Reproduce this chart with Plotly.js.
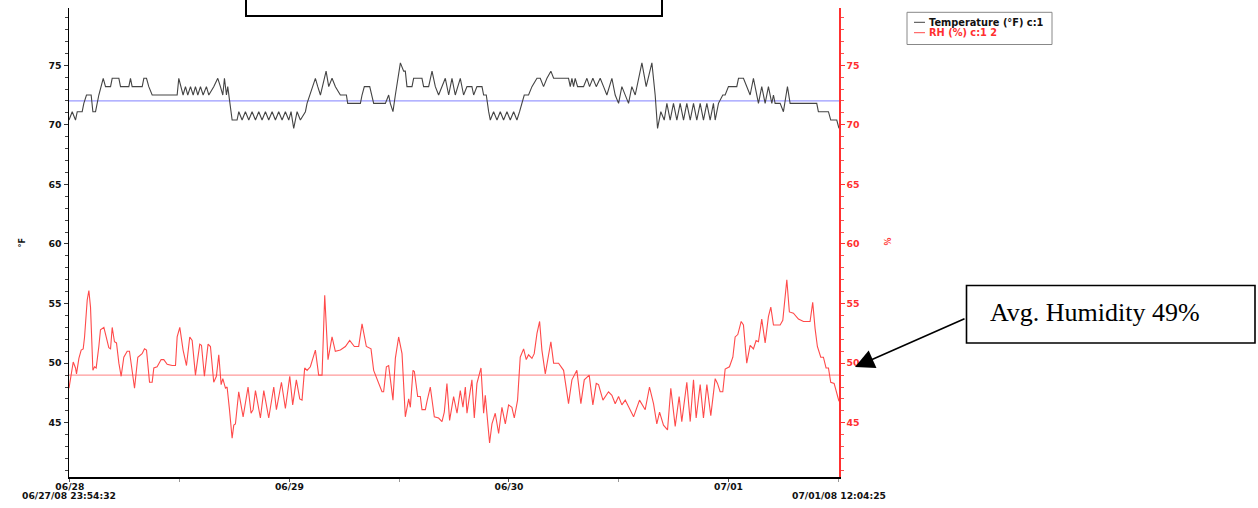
<!DOCTYPE html>
<html>
<head>
<meta charset="utf-8">
<script src="https://cdn.plot.ly/plotly-3.0.1.min.js"></script>
<style>html,body{margin:0;padding:0;background:#fff;}#chart{width:1258px;height:508px;}</style>
</head>
<body>
<div id="chart"></div>
<script>
// ---- data (hours since 2008-06-28 00:00) ----
const tempHours = [-0.09,0.26,0.62,0.81,1.35,1.53,1.82,2.33,2.52,2.81,3.17,3.43,3.65,3.90,4.45,4.63,5.36,5.54,6.45,6.63,6.81,7.91,8.09,8.38,8.63,9.00,11.73,11.91,12.17,12.38,12.64,12.89,13.19,13.48,13.73,13.99,14.28,14.57,14.93,15.19,15.73,16.17,16.46,16.72,16.90,17.12,17.26,17.56,17.74,18.28,18.47,18.83,19.19,19.56,19.92,20.29,20.65,21.01,21.38,21.74,22.11,22.47,22.83,23.20,23.56,23.93,24.18,24.47,24.84,25.20,25.75,25.93,26.22,26.48,26.84,27.10,27.39,28.01,28.30,28.66,29.03,29.57,30.23,30.37,31.76,31.94,32.19,32.78,33.03,33.21,34.49,34.85,35.03,35.32,35.58,35.83,36.13,36.49,36.67,36.85,37.40,37.58,38.49,38.67,39.22,39.59,39.95,40.31,41.04,41.41,41.77,42.13,42.68,43.04,43.41,43.95,44.14,44.50,45.05,45.23,45.52,45.78,45.96,46.32,46.69,47.05,47.41,47.78,48.14,48.51,48.87,49.16,49.42,49.67,50.14,50.51,51.06,51.42,51.78,52.15,52.58,52.88,54.51,54.70,54.88,55.06,55.24,55.50,56.15,56.52,56.81,57.17,57.54,57.97,58.34,58.70,59.25,59.61,59.98,60.34,61.07,61.43,61.80,61.98,62.34,62.53,63.00,63.44,63.62,63.98,64.24,64.60,64.97,65.26,65.62,65.98,66.35,66.71,67.08,67.44,67.81,68.17,68.53,68.90,69.26,69.63,69.99,70.35,70.54,70.90,71.37,71.63,71.99,72.90,73.09,73.63,74.00,74.36,74.72,75.09,75.27,75.63,76.00,76.36,76.73,76.91,77.09,77.64,78.00,78.29,78.44,78.73,81.64,81.82,82.92,83.17,83.83,84.07];
const tempValues = [70.4,71.1,70.4,71.1,71.1,71.8,72.5,72.5,71.1,71.1,72.5,73.2,73.9,73.2,73.2,73.9,73.9,73.2,73.2,73.9,73.2,73.2,73.9,73.9,73.2,72.5,72.5,73.9,73.2,72.5,73.2,72.5,73.2,72.5,73.2,72.5,73.2,72.5,73.2,72.5,73.2,73.9,73.2,72.5,73.9,72.5,73.2,71.1,70.4,70.4,71.1,70.4,71.1,70.4,71.1,70.4,71.1,70.4,71.1,70.4,71.1,70.4,71.1,70.4,71.1,70.4,71.1,69.7,71.1,70.4,71.1,71.8,72.5,73.2,73.9,73.2,72.5,74.5,73.2,73.9,73.2,72.5,72.5,71.8,71.8,72.5,73.2,73.2,72.5,71.8,71.8,72.5,71.8,71.1,72.5,73.9,75.2,74.5,74.5,73.2,73.2,73.9,73.9,73.2,73.2,74.5,73.2,72.5,73.9,72.5,73.9,72.5,73.9,72.5,73.2,73.2,72.5,73.2,73.2,72.5,72.5,71.1,70.4,71.1,70.4,71.1,70.4,71.1,70.4,71.1,70.4,71.1,71.8,72.5,72.5,73.2,73.9,73.9,73.2,73.9,74.5,73.9,73.9,73.2,73.9,73.2,73.9,73.2,73.2,73.9,73.2,73.9,73.2,73.9,73.2,72.5,73.9,72.5,71.8,73.2,71.8,73.2,72.5,73.2,74.5,75.2,73.2,74.5,75.2,72.5,69.7,71.1,70.4,71.8,70.4,71.8,70.4,71.8,70.4,71.8,70.4,71.8,70.4,71.8,70.4,71.8,70.4,71.8,70.4,71.8,72.5,72.5,73.2,73.2,73.9,73.9,73.2,72.5,73.9,72.5,71.8,73.2,71.8,73.2,71.8,72.5,71.8,71.8,71.1,72.5,73.2,71.8,71.8,71.1,71.1,70.4,70.4,69.7];
const rhHours = [-0.09,0.37,0.62,0.73,0.99,1.24,1.46,1.61,1.90,2.08,2.26,2.52,2.70,2.88,3.17,3.35,3.72,4.26,4.45,4.63,4.88,5.10,5.36,5.61,5.90,6.27,6.52,6.81,7.07,7.43,7.90,8.16,8.38,8.71,9.00,9.18,9.54,9.98,10.27,10.64,11.18,11.55,11.73,12.02,12.38,12.75,13.11,13.37,13.73,14.20,14.39,14.71,15.11,15.37,15.73,16.02,16.28,16.54,16.72,17.01,17.19,17.45,17.74,17.92,18.10,18.46,18.94,19.48,19.81,20.03,20.29,20.83,21.20,21.74,22.29,22.58,23.13,23.56,24.04,24.36,24.76,25.13,25.38,25.67,25.93,26.29,26.84,27.20,27.57,27.86,28.22,28.66,29.02,29.57,30.12,30.59,31.10,31.57,31.94,32.41,32.92,33.21,33.76,34.12,34.30,34.60,34.85,35.32,35.58,35.94,36.31,36.67,37.04,37.22,37.51,37.66,38.02,38.31,38.49,38.86,39.04,39.40,39.84,40.31,40.68,40.93,41.22,41.51,41.95,42.32,42.68,42.97,43.23,43.41,43.77,43.95,44.21,44.50,44.94,45.23,45.41,45.59,45.88,46.14,46.50,46.87,47.23,47.60,47.96,48.32,48.58,48.94,49.23,49.60,49.89,50.14,50.51,50.76,51.06,51.35,51.60,51.97,52.33,52.58,52.88,53.42,53.97,54.51,54.88,55.42,55.86,56.23,56.77,57.17,57.54,57.79,58.27,58.88,59.25,59.61,59.98,60.34,60.71,61.07,61.62,62.27,62.53,62.89,63.36,63.80,64.16,64.46,64.89,65.33,65.69,66.17,66.60,66.89,67.44,67.81,68.17,68.46,68.90,69.26,69.63,70.06,70.54,70.79,71.08,71.37,71.63,72.10,72.47,72.72,73.01,73.38,73.63,73.99,74.36,74.72,75.01,75.27,75.63,76.00,76.36,76.62,76.91,77.64,77.93,78.37,78.65,79.09,79.64,80.19,80.91,81.20,81.46,81.71,82.08,82.37,82.66,82.92,83.17,83.54,84.07];
const rhValues = [47.9,50.1,49.6,49.1,50.4,51.1,51.2,52.2,55.3,56.1,54.7,49.4,49.7,49.6,51.4,52.8,53.0,51.3,51.2,53.0,51.8,51.7,50.0,48.9,50.5,51.0,51.0,49.4,47.9,50.5,50.8,51.2,51.1,48.4,48.4,49.6,49.7,50.3,50.3,49.9,49.8,49.8,52.2,53.0,51.1,49.8,52.2,51.9,49.0,51.6,51.5,48.9,51.6,51.4,48.4,48.9,50.7,48.2,48.7,47.9,48.0,46.1,43.7,44.8,44.9,47.6,45.5,48.0,45.8,46.1,47.7,45.4,47.7,45.4,48.0,46.1,48.4,46.2,48.9,46.5,48.6,47.0,46.9,49.6,49.4,49.7,51.1,49.0,49.0,55.7,50.3,52.2,51.0,51.1,51.4,51.9,51.4,51.4,53.3,51.4,51.2,49.4,48.4,47.6,47.6,49.7,49.8,46.9,50.4,52.2,50.8,45.5,47.0,46.3,49.4,49.3,47.2,47.2,46.1,46.1,46.8,48.0,45.5,45.4,45.1,45.9,48.3,45.2,47.2,45.8,47.7,46.3,48.0,45.8,47.7,48.6,45.4,48.3,49.6,45.8,47.3,45.8,43.3,44.9,45.8,44.1,46.3,44.9,46.5,46.3,45.4,46.9,50.5,51.2,50.3,50.7,50.4,50.8,52.5,53.5,51.1,49.1,50.8,51.8,50.0,50.0,49.4,46.6,48.6,49.4,46.6,48.6,49.0,46.5,48.3,48.2,46.9,47.6,47.3,46.6,47.2,46.5,46.9,46.3,45.5,46.9,46.6,46.1,48.0,46.6,44.9,45.9,44.8,44.4,47.9,44.7,47.2,45.1,48.4,45.1,48.6,45.4,48.2,45.4,48.2,45.6,48.7,48.3,47.6,47.6,49.5,49.7,50.5,52.2,52.4,53.5,53.2,50.0,51.5,51.2,51.9,51.8,53.7,51.7,53.9,54.7,53.2,53.2,53.6,57.0,54.3,54.2,53.7,53.5,53.5,55.1,52.9,51.4,50.5,50.5,49.6,49.6,48.4,48.3,46.8];
const avgTemp = 72;
const avgRH = 49;
const dayTicks = ['2008-06-28','2008-06-29','2008-06-30','2008-07-01'];
const dayLabels = ['06/28','06/29','06/30','07/01'];
const yTicks = [45,50,55,60,65,70,75];
const startTime = '2008-06-27 23:54:32';
const endTime = '2008-07-01 12:04:25';
const startLabel = '06/27/08 23:54:32';
const endLabel = '07/01/08 12:04:25';
const legendNames = ['Temperature (°F) c:1','RH (%) c:1 2'];
const noteText = 'Avg. Humidity 49%';

// ---- helpers ----
const BASE = Date.UTC(2008,5,28,0,0,0);
function toDate(h){ return new Date(BASE + h*3600000).toISOString().replace('T',' ').replace('Z',''); }

// plot geometry in page pixels (for paper conversions)
const W=1258,H=508, L=69, R=839, T=8, B=477;
const px = x => (x-L)/(R-L);
const py = y => (B-y)/(B-T);

const tickFont = {family:'DejaVu Sans', size:9.2, color:'#111', weight:'bold'};
const redFont = {family:'DejaVu Sans', size:9.4, color:'#ff3030', weight:'bold'};
const yRange = [40.45, 79.8];

const traces = [
  {x: tempHours.map(toDate), y: tempValues, type:'scatter', mode:'lines', name:legendNames[0],
   line:{color:'#444', width:1.1}, xaxis:'x', yaxis:'y'},
  {x: rhHours.map(toDate), y: rhValues, type:'scatter', mode:'lines', name:legendNames[1],
   line:{color:'#ff4a4a', width:1.1}, xaxis:'x', yaxis:'y2'}
];

const layout = {
  width:W, height:H, showlegend:false,
  margin:{l:L, r:W-R, t:T, b:H-B, pad:0},
  paper_bgcolor:'#fff', plot_bgcolor:'#fff',
  xaxis:{type:'date', range:[startTime,endTime], showgrid:false, zeroline:false,
    showline:true, linecolor:'#000', linewidth:1.5, ticks:'outside', ticklen:3, tickcolor:'#555',
    tickvals:dayTicks, ticktext:dayLabels, tickfont:tickFont, tickangle:0, ticklabelstandoff:-3,
    minor:{dtick:43200000, tick0:'2008-06-28', ticks:'outside', ticklen:3, tickcolor:'#999'}},
  yaxis:{range:yRange, showgrid:false, zeroline:false, showline:true, linecolor:'#000', linewidth:1.5,
    ticks:'outside', ticklen:4, tickcolor:'#333', tickvals:yTicks, tickfont:{...tickFont, size:9.4},
    minor:{dtick:1, tick0:40, ticks:'outside', ticklen:3, tickcolor:'#444'}},
  yaxis2:{range:yRange, overlaying:'y', side:'right', showgrid:false, zeroline:false, showline:true,
    linecolor:'#ff3030', linewidth:1.5, ticks:'outside', ticklen:4, tickcolor:'#ff3030',
    tickvals:yTicks, tickfont:redFont,
    minor:{dtick:1, tick0:40, ticks:'outside', ticklen:3, tickcolor:'#ff5050'}},
  shapes:[
    {type:'line', xref:'paper', yref:'y', x0:0, x1:1, y0:avgTemp, y1:avgTemp, line:{color:'#9a9aff', width:1.3}, layer:'below'},
    {type:'line', xref:'paper', yref:'y2', x0:0, x1:1, y0:avgRH, y1:avgRH, line:{color:'#ff9a9a', width:1.1}, layer:'below'},
    // legend box
    {type:'rect', xref:'paper', yref:'paper', x0:px(907), x1:px(1052), y0:py(44.5), y1:py(12.3), line:{color:'#888', width:1}},
    {type:'line', xref:'paper', yref:'paper', x0:px(914), x1:px(925), y0:py(22.3), y1:py(22.3), line:{color:'#444', width:1}},
    {type:'line', xref:'paper', yref:'paper', x0:px(914), x1:px(925), y0:py(32.7), y1:py(32.7), line:{color:'#ff4a4a', width:1}},
    // top cropped box
    {type:'rect', xref:'paper', yref:'paper', x0:px(246), x1:px(662), y0:py(16), y1:py(-10), line:{color:'#000', width:2}},
    // note box
    {type:'rect', xref:'paper', yref:'paper', x0:px(966.5), x1:px(1255), y0:py(343), y1:py(285.5), line:{color:'#000', width:1.6}}
  ],
  annotations:[
    {xref:'paper', yref:'paper', x:px(927), y:py(22.3), xanchor:'left', yanchor:'middle', showarrow:false,
     text:legendNames[0], font:{family:'DejaVu Sans', size:9.8, color:'#111', weight:'bold'}},
    {xref:'paper', yref:'paper', x:px(927), y:py(32.7), xanchor:'left', yanchor:'middle', showarrow:false,
     text:legendNames[1], font:{family:'DejaVu Sans', size:9.8, color:'#ff3030', weight:'bold'}},
    {xref:'paper', yref:'paper', x:px(15), y:py(243), showarrow:false, textangle:-90,
     text:'°F', font:{family:'DejaVu Sans', size:8, color:'#111', weight:'bold'}},
    {xref:'paper', yref:'paper', x:px(894), y:py(242), showarrow:false, textangle:-90,
     text:'%', font:{family:'DejaVu Sans', size:8, color:'#ff3030', weight:'bold'}},
    {xref:'paper', yref:'paper', x:0, y:py(495.5), xanchor:'center', yanchor:'middle', showarrow:false,
     text:startLabel, font:tickFont},
    {xref:'paper', yref:'paper', x:1, y:py(495.5), xanchor:'center', yanchor:'middle', showarrow:false,
     text:endLabel, font:tickFont},
    {xref:'paper', yref:'paper', x:px(988), y:py(312), xanchor:'left', yanchor:'middle', showarrow:false,
     text:noteText, font:{family:'Liberation Serif', size:26, color:'#000'}},
    {xref:'paper', yref:'paper', x:px(855), y:py(367), text:'', showarrow:true,
     ax:111, ay:-49, arrowhead:2, arrowsize:2.4, arrowwidth:1.6, arrowcolor:'#000', standoff:0}
  ]
};

Plotly.newPlot('chart', traces, layout, {displayModeBar:false, staticPlot:true});
</script>
</body>
</html>
